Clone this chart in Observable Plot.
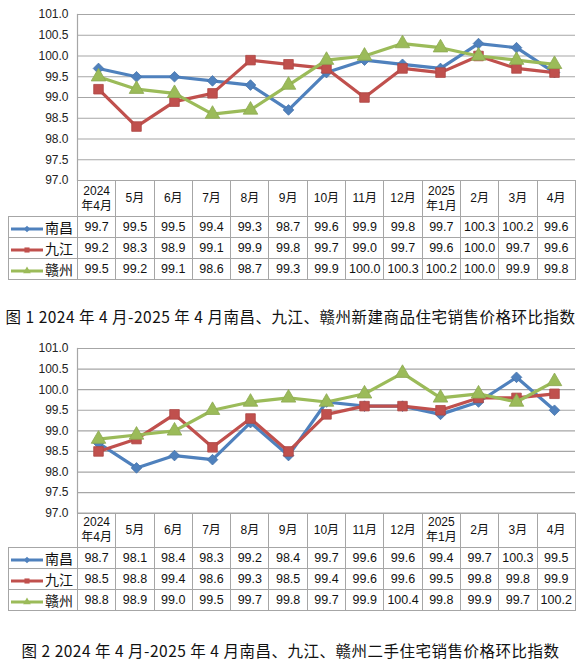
<!DOCTYPE html>
<html><head><meta charset="utf-8">
<script src="https://cdn.jsdelivr.net/npm/d3@7"></script>
<script src="https://cdn.jsdelivr.net/npm/@observablehq/plot@0.6"></script>
<style>
body{margin:0;background:#fff;font-family:"Noto Sans CJK SC","Noto Sans",sans-serif;}
#root{position:relative;width:581px;height:662px;overflow:hidden;background:#fff;}
.panel{position:absolute;left:0;}
table{position:absolute;border-collapse:collapse;table-layout:fixed;font-family:"Liberation Sans","Noto Sans CJK SC",sans-serif;font-size:12.5px;color:#111;}
td{border:1px solid #a6a6a6;text-align:center;padding:0;white-space:nowrap;overflow:hidden;box-sizing:border-box;}
td.hd{white-space:pre-line;line-height:15px;font-size:12px;font-family:"Liberation Sans","Noto Sans CJK SC",sans-serif;}
td.city{text-align:left;font-family:"Noto Sans CJK SC",sans-serif;font-size:14px;}
td.city svg{vertical-align:middle;}
.cap{position:absolute;left:0;width:581px;text-align:center;font-size:15.5px;letter-spacing:0.5px;line-height:20px;color:#111;font-family:"Noto Sans CJK SC",sans-serif;white-space:pre;}
</style></head>
<body><div id="root"></div>
<script>
// ---- data ----
const months = ["2024\n年4月","5月","6月","7月","8月","9月","10月","11月","12月","2025\n年1月","2月","3月","4月"];
const cities = ["南昌","九江","赣州"];
const colors = ["#4F81BD","#C0504D","#9BBB59"];
const symbols = ["diamond2","square","triangle"];
const yTicks = [97.0,97.5,98.0,98.5,99.0,99.5,100.0,100.5,101.0];

// 图1 新建商品住宅
const newNanchang = [99.7,99.5,99.5,99.4,99.3,98.7,99.6,99.9,99.8,99.7,100.3,100.2,99.6];
const newJiujiang = [99.2,98.3,98.9,99.1,99.9,99.8,99.7,99.0,99.7,99.6,100.0,99.7,99.6];
const newGanzhou  = [99.5,99.2,99.1,98.6,98.7,99.3,99.9,100.0,100.3,100.2,100.0,99.9,99.8];
// 图2 二手住宅
const usedNanchang = [98.7,98.1,98.4,98.3,99.2,98.4,99.7,99.6,99.6,99.4,99.7,100.3,99.5];
const usedJiujiang = [98.5,98.8,99.4,98.6,99.3,98.5,99.4,99.6,99.6,99.5,99.8,99.8,99.9];
const usedGanzhou  = [98.8,98.9,99.0,99.5,99.7,99.8,99.7,99.9,100.4,99.8,99.9,99.7,100.2];

const caption1 = "图 1 2024 年 4 月-2025 年 4 月南昌、九江、赣州新建商品住宅销售价格环比指数";
const caption2 = "图 2 2024 年 4 月-2025 年 4 月南昌、九江、赣州二手住宅销售价格环比指数";

const root = document.getElementById("root");
const symFns = {diamond2: d3.symbolDiamond2, square: d3.symbolSquare, triangle: d3.symbolTriangle};

function panel(series, top, height, mb, headH, rowH, capTop, caption) {
  const marks = [
    Plot.ruleY(yTicks, {stroke: "#a6a6a6", strokeWidth: 1.2}),
    Plot.frame({anchor: "left", stroke: "#a6a6a6", strokeWidth: 1.2}),
    Plot.axisY({ticks: yTicks, tickFormat: d => d.toFixed(1), tickSize: 0, tickPadding: 9, label: null, fill: "#222"})
  ];
  cities.forEach((c, k) => {
    const data = series[k].map((v, i) => ({month: months[i], city: c, value: v}));
    marks.push(Plot.line(data, {x: "month", y: "value", stroke: colors[k], strokeWidth: 3.2, strokeLinejoin: "round"}));
    marks.push(Plot.dot(data, {x: "month", y: "value", symbol: symbols[k], fill: colors[k], stroke: d3.color(colors[k]).darker(0.3).formatHex(), strokeWidth: 0.8, r: k === 0 ? 4.8 : 5.4}));
  });
  const chart = Plot.plot({
    width: 581, height, marginTop: 14, marginBottom: mb, marginLeft: 77, marginRight: 6,
    style: {overflow: "visible", background: "transparent", fontFamily: "Liberation Sans, sans-serif", fontSize: "12px"},
    x: {type: "point", domain: months, padding: 0.5, axis: null},
    y: {domain: [97, 101]},
    marks
  });
  chart.classList.add("panel");
  chart.style.top = top + "px";
  root.appendChild(chart);

  const xs = chart.scale("x");
  const step = (xs.range[1] - xs.range[0]) / months.length;
  const tbl = document.createElement("table");
  tbl.style.left = "8px";
  tbl.style.top = (top + height - mb) + "px";
  tbl.style.width = (69 + 13 * step) + "px";
  const cg = document.createElement("colgroup");
  [69, ...months.map(() => step)].forEach(w => {
    const col = document.createElement("col"); col.style.width = w + "px"; cg.appendChild(col);
  });
  tbl.appendChild(cg);
  const hr = document.createElement("tr");
  const corner = document.createElement("td");
  corner.style.borderTop = "none"; corner.style.borderLeft = "none";
  corner.style.height = headH + "px";
  hr.appendChild(corner);
  months.forEach(m => {
    const td = document.createElement("td"); td.className = "hd"; td.textContent = m; hr.appendChild(td);
  });
  tbl.appendChild(hr);
  cities.forEach((c, k) => {
    const tr = document.createElement("tr");
    const td0 = document.createElement("td"); td0.className = "city";
    td0.style.height = rowH + "px";
    const sw = d3.create("svg").attr("width", 36).attr("height", 12);
    sw.append("line").attr("x1", 2).attr("x2", 34).attr("y1", 6).attr("y2", 6).attr("stroke", colors[k]).attr("stroke-width", 3);
    sw.append("path").attr("transform", "translate(18,6)").attr("d", d3.symbol(symFns[symbols[k]], 26)()).attr("fill", colors[k]);
    td0.appendChild(sw.node());
    td0.appendChild(document.createTextNode(c));
    tr.appendChild(td0);
    series[k].forEach(v => {
      const td = document.createElement("td"); td.textContent = v.toFixed(1); tr.appendChild(td);
    });
    tbl.appendChild(tr);
  });
  root.appendChild(tbl);

  const cap = document.createElement("div");
  cap.className = "cap"; cap.style.top = capTop + "px"; cap.textContent = caption;
  root.appendChild(cap);
}

panel([newNanchang, newJiujiang, newGanzhou], 0, 181, 1, 36, 19.7, 306, caption1);
panel([usedNanchang, usedJiujiang, usedGanzhou], 334, 180, 1.3, 34, 20, 640, caption2);
</script>
</body></html>
